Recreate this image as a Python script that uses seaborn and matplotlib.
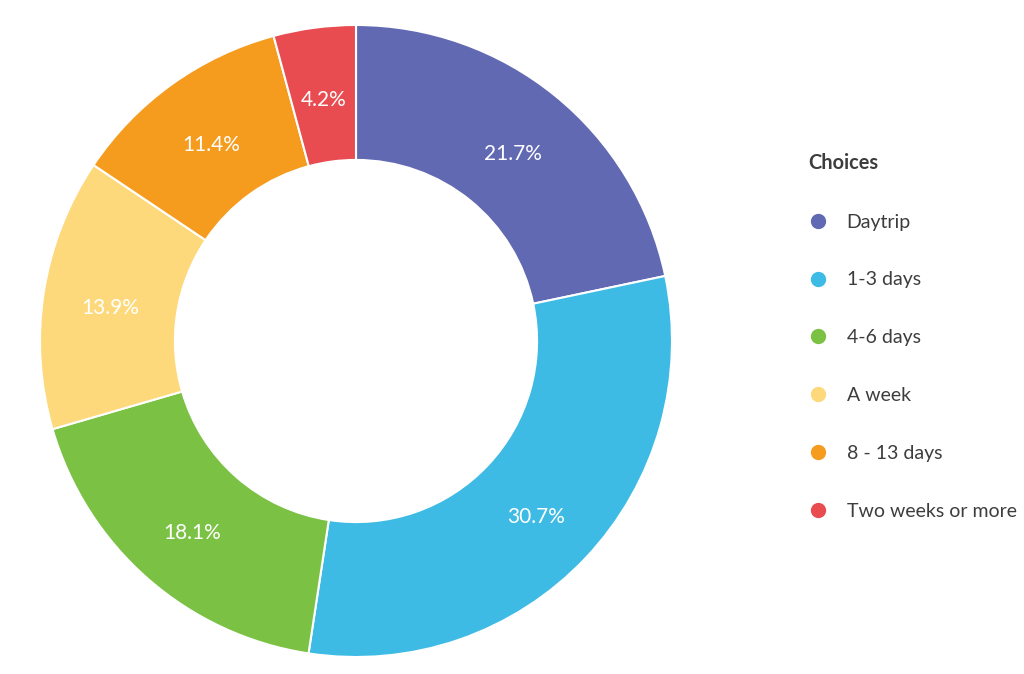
import matplotlib
matplotlib.use("Agg")
import matplotlib.pyplot as plt
from matplotlib.lines import Line2D
import seaborn as sns

sns.set_theme(style="white")
plt.rcParams['font.family'] = ['Lato', 'DejaVu Sans']

categories = ["Daytrip", "1-3 days", "4-6 days", "A week", "8 - 13 days", "Two weeks or more"]
values = [21.7, 30.7, 18.1, 13.9, 11.4, 4.2]
colors = ["#6269B3", "#3DBBE4", "#7BC143", "#FDD97B", "#F59C1F", "#E84C50"]

W, H = 1024, 674
fig = plt.figure(figsize=(W / 100, H / 100), dpi=100)
cx, cy, R = 356, 341, 316
ax = fig.add_axes([(cx - R) / W, (H - cy - R) / H, 2 * R / W, 2 * R / H])

wedges, texts, autotexts = ax.pie(
    values, colors=colors, startangle=90, counterclock=False, radius=1,
    autopct="%.1f%%", pctdistance=0.786,
    wedgeprops=dict(width=0.427, edgecolor="white", linewidth=1.5),
    textprops=dict(color="white", fontsize=15),
)
for t in autotexts:
    x, y = t.get_position()
    t.set_position((x, y - 5.5 / R))
ax.set_xlim(-1, 1)
ax.set_ylim(-1, 1)
ax.set_aspect("equal")
ax.axis("off")

handles = [Line2D([0], [0], marker="o", linestyle="none", markersize=10,
                  markerfacecolor=c, markeredgecolor=c) for c in colors]
leg = fig.legend(handles, categories, title="Choices", loc="upper left",
                 bbox_to_anchor=(800 / W, 1 - 145 / H), frameon=False,
                 fontsize=14, title_fontproperties=dict(weight="bold", size=14.4),
                 labelspacing=2.1, handletextpad=1.0, handlelength=1.0,
                 borderaxespad=0.0, labelcolor="#3d3d3d")
leg.get_title().set_color("#3d3d3d")
leg._legend_box.align = "left"

fig.savefig("out.png", dpi=100, facecolor="white")
